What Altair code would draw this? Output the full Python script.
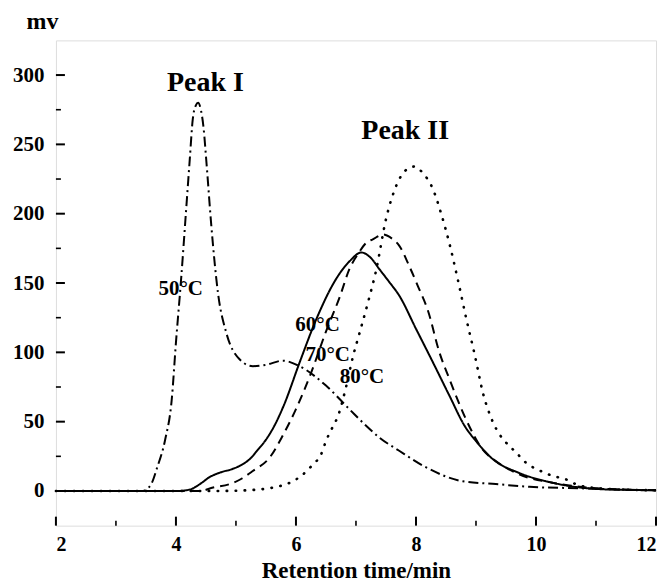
import altair as alt
import pandas as pd

# ---- data ----
t50_x = [2.0, 3.0, 3.45, 3.51, 3.6, 3.68, 3.82, 3.93, 4.0, 4.09, 4.17, 4.23, 4.28, 4.33, 4.37, 4.41, 4.46, 4.51,
         4.59, 4.70, 4.84, 5.06, 5.28, 5.5, 5.78, 6.06, 6.5, 6.89, 7.17, 7.39, 7.72, 8.17, 8.78, 9.33, 9.89,
         10.7, 11.5, 12.0]
t50_y = [0, 0, 0, 1, 6, 16, 37, 66, 107, 155, 203, 239, 268, 278, 280, 276, 262, 236,
         191, 143, 114, 95, 90, 91, 94, 90, 76, 59, 47, 38.5, 29, 17, 7, 5, 3,
         2, 1, 0.5]

t60_x = [2.0, 3.0, 4.0, 4.23, 4.4, 4.56, 4.75, 4.95, 5.1, 5.23, 5.37, 5.5, 5.64, 5.8, 6.06, 6.34, 6.67, 6.9,
         7.09, 7.25, 7.39, 7.55, 7.72, 8.0, 8.28, 8.56, 8.81, 9.0, 9.28, 9.72, 10.27, 10.99, 11.5, 12.0]
t60_y = [0, 0, 0, 1, 5, 10, 13.5, 16, 19, 23, 30, 37, 47, 62, 92.6, 124, 153, 166,
         172, 168, 160, 151, 141, 117, 93, 68.5, 47, 36, 23, 13, 6, 1.5, 0.8, 0.5]

t70_x = [2.0, 3.0, 4.0, 4.4, 4.62, 4.9, 5.1, 5.28, 5.56, 5.78, 6.0, 6.25, 6.5, 6.73, 6.89, 7.05, 7.17, 7.28,
         7.45, 7.6, 7.72, 7.89, 8.03, 8.2, 8.39, 8.56, 8.83, 9.11, 9.33, 9.72, 10.27, 11.0, 12.0]
t70_y = [0, 0, 0, 0, 2.5, 5, 9, 14.4, 24, 40, 59, 85, 115, 140, 160, 172, 179, 181.5,
         185, 182, 177, 162, 148, 130, 100, 80.5, 52, 30, 21.6, 12, 6, 2, 0.5]

t80_x = [2.0, 3.0, 4.0, 4.67, 5.17, 5.62, 5.9, 6.09, 6.28, 6.42, 6.5, 6.61, 6.7, 6.84, 6.95, 7.06, 7.2, 7.34,
         7.5, 7.67, 7.82, 7.97, 8.12, 8.28, 8.42, 8.56, 8.7, 8.84, 8.98, 9.12, 9.25, 9.36, 9.5, 9.67, 9.83,
         10.05, 10.27, 10.5, 10.72, 11.2, 12.0]
t80_y = [0, 0, 0, 0, 0.5, 2.5, 6, 11, 19, 26.5, 36, 46, 54, 76, 97, 114, 136, 160,
         196, 220, 231, 234, 229, 218, 200, 178, 152, 124, 98, 70, 53, 43, 35, 27.7, 20.5,
         15, 11, 8.4, 4, 1.5, 0.5]

label_text = ["50°C", "60°C", "70°C", "80°C"]
label_x = [4.08, 6.36, 6.53, 7.1]
label_y = [145.4, 119.6, 98.0, 82.4]

peak_text = ["Peak I", "Peak II"]
peak_x = [4.49, 7.82]
peak_y = [294, 259.6]

x_major = [2, 4, 6, 8, 10, 12]
x_minor = [3, 5, 7, 9, 11]
y_major = [0, 50, 100, 150, 200, 250, 300]
y_minor = [25, 75, 125, 175, 225, 275]

FONT = "Liberation Serif"
W, H = 601, 486

xscale = alt.Scale(domain=[2, 12], nice=False, zero=False)
yscale = alt.Scale(domain=[-25, 325], nice=False, zero=False)

xenc = alt.X("x:Q", scale=xscale, axis=alt.Axis(
    values=x_major, format="d", title="Retention time/min", grid=False, domain=False,
    ticks=False, tickSize=0, labelPadding=9, labelFont=FONT, labelFontSize=20,
    labelFontWeight="bold", labelColor="black", titleFont=FONT, titleFontSize=23,
    titleFontWeight="bold", titleColor="black", titleY=45, titleBaseline="middle"))
yenc = alt.Y("y:Q", scale=yscale, axis=alt.Axis(
    values=y_major, format="d", title="mv", grid=False, domain=False,
    ticks=False, tickSize=0, labelPadding=12, labelFont=FONT, labelFontSize=21,
    labelFontWeight="bold", labelColor="black", titleFont=FONT, titleFontSize=24,
    titleFontWeight="bold", titleColor="black", titleAngle=0, titleX=-14, titleY=-19,
    titleAlign="center", titleBaseline="middle"))


def line(xs, ys, dash, width=2.0, cap="butt"):
    df = pd.DataFrame({"x": xs, "y": ys})
    return alt.Chart(df).mark_line(
        color="black", strokeWidth=width, strokeDash=dash, strokeCap=cap,
        interpolate="monotone").encode(x=xenc, y=yenc)


l50 = line(t50_x, t50_y, [10, 4, 2, 4], 2.0)
l60 = line(t60_x, t60_y, [1, 0], 2.0)
l70 = line(t70_x, t70_y, [9, 6], 2.0)
l80 = line(t80_x, t80_y, [0.5, 8.5], 2.6, "round")

labels = alt.Chart(pd.DataFrame({"x": label_x, "y": label_y, "t": label_text})).mark_text(
    font=FONT, fontSize=21, fontWeight="bold", color="black", align="center", baseline="middle"
).encode(x=xenc, y=yenc, text="t:N")

peaks = alt.Chart(pd.DataFrame({"x": peak_x, "y": peak_y, "t": peak_text})).mark_text(
    font=FONT, fontSize=28, fontWeight="bold", color="black", align="center", baseline="middle"
).encode(x=xenc, y=yenc, text="t:N")

xt_major = alt.Chart(pd.DataFrame({"x": x_major})).mark_rule(color="black", strokeWidth=2).encode(
    x=xenc, y=alt.value(H), y2=alt.value(H - 9))
xt_minor = alt.Chart(pd.DataFrame({"x": x_minor})).mark_rule(color="black", strokeWidth=1.6).encode(
    x=xenc, y=alt.value(H), y2=alt.value(H - 5))
yt_major = alt.Chart(pd.DataFrame({"y": y_major})).mark_rule(color="black", strokeWidth=2).encode(
    y=yenc, x=alt.value(0), x2=alt.value(9))
yt_minor = alt.Chart(pd.DataFrame({"y": y_minor})).mark_rule(color="black", strokeWidth=1.6).encode(
    y=yenc, x=alt.value(0), x2=alt.value(5))

chart = alt.layer(
    xt_major, xt_minor, yt_major, yt_minor, l50, l60, l70, l80, labels, peaks
).properties(
    width=W, height=H,
    autosize=alt.AutoSizeParams(type="none"),
    padding={"left": 48, "top": 32, "right": 8, "bottom": 58},
).configure_view(
    stroke="black", strokeWidth=2
).configure(background="white")

chart.save("out.html", embed_options={"renderer": "svg", "actions": False})
